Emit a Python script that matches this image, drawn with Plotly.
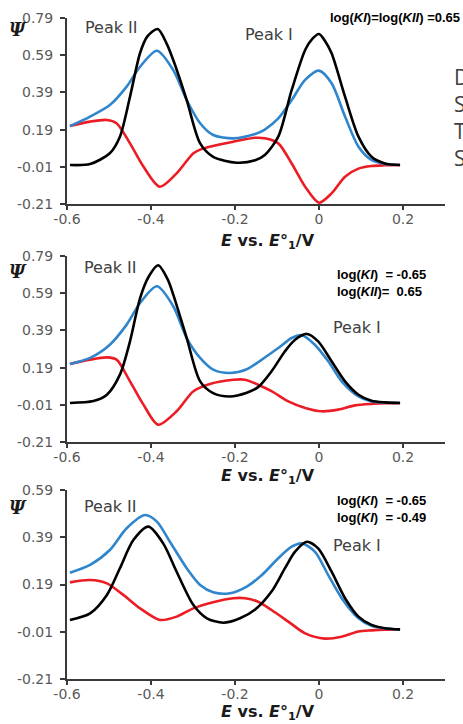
import plotly.graph_objects as go

# ---------------- data ----------------
# Panel 1 : log(KI)=log(KII)=0.65
p1_black_x = [-0.593, -0.545, -0.498, -0.474, -0.45, -0.426, -0.409, -0.384, -0.363, -0.347, -0.315, -0.283, -0.252,
              -0.196, -0.152, -0.129, -0.097, -0.065, -0.033, -0.017, 0.0, 0.014, 0.030, 0.062, 0.094, 0.125, 0.157, 0.193]
p1_black_y = [0.0, 0.005, 0.063, 0.152, 0.367, 0.602, 0.69, 0.731, 0.654, 0.564, 0.349, 0.116, 0.044,
              0.012, 0.025, 0.053, 0.152, 0.403, 0.618, 0.675, 0.704, 0.668, 0.60, 0.367, 0.152, 0.044, 0.008, 0.0]
p1_blue_x = [-0.593, -0.545, -0.498, -0.458, -0.426, -0.386, -0.347, -0.315, -0.283, -0.252, -0.204, -0.152,
             -0.129, -0.097, -0.065, -0.033, 0.0, 0.030, 0.062, 0.094, 0.125, 0.157, 0.193]
p1_blue_y = [0.209, 0.26, 0.322, 0.421, 0.528, 0.614, 0.51, 0.349, 0.224, 0.161, 0.143, 0.166,
             0.19, 0.25, 0.349, 0.457, 0.507, 0.439, 0.26, 0.098, 0.027, 0.005, 0.0]
p1_red_x = [-0.593, -0.545, -0.505, -0.482, -0.45, -0.418, -0.379, -0.339, -0.299, -0.28, -0.26, -0.204, -0.152,
            -0.129, -0.097, -0.065, -0.033, 0.0, 0.030, 0.062, 0.094, 0.125, 0.157, 0.193]
p1_red_y = [0.209, 0.233, 0.242, 0.224, 0.116, -0.009, -0.117, -0.045, 0.063, 0.085, 0.098, 0.125, 0.146,
            0.143, 0.116, 0.008, -0.117, -0.203, -0.153, -0.063, -0.02, -0.006, -0.002, 0.0]

# Panel 2 : log(KI)=-0.65, log(KII)=0.65
p2_black_x = [-0.593, -0.537, -0.505, -0.474, -0.45, -0.426, -0.405, -0.383, -0.36, -0.347, -0.315, -0.283, -0.252,
              -0.212, -0.172, -0.145, -0.113, -0.081, -0.057, -0.029, -0.002, 0.030, 0.062, 0.094, 0.125, 0.157, 0.193]
p2_black_y = [0.0, 0.01, 0.044, 0.152, 0.331, 0.564, 0.681, 0.74, 0.663, 0.582, 0.349, 0.116, 0.053,
              0.035, 0.055, 0.085, 0.17, 0.278, 0.34, 0.371, 0.331, 0.224, 0.116, 0.044, 0.012, 0.003, 0.0]
p2_blue_x = [-0.593, -0.545, -0.498, -0.458, -0.426, -0.386, -0.347, -0.315, -0.283, -0.252, -0.212, -0.172,
             -0.136, -0.097, -0.065, -0.041, -0.010, 0.022, 0.054, 0.094, 0.125, 0.157, 0.193]
p2_blue_y = [0.209, 0.242, 0.313, 0.421, 0.537, 0.627, 0.52, 0.349, 0.242, 0.179, 0.161, 0.181,
             0.233, 0.295, 0.349, 0.364, 0.313, 0.224, 0.116, 0.035, 0.008, 0.002, 0.0]
p2_red_x = [-0.593, -0.545, -0.505, -0.482, -0.45, -0.418, -0.383, -0.339, -0.299, -0.26, -0.204, -0.176,
            -0.145, -0.113, -0.073, -0.033, 0.006, 0.046, 0.086, 0.125, 0.157, 0.193]
p2_red_y = [0.209, 0.233, 0.245, 0.233, 0.116, -0.009, -0.117, -0.045, 0.063, 0.102, 0.125, 0.125,
            0.098, 0.063, 0.008, -0.027, -0.045, -0.036, -0.013, -0.005, -0.002, 0.0]

# Panel 3 : log(KI)=-0.65, log(KI)=-0.49
p3_black_x = [-0.593, -0.545, -0.505, -0.474, -0.442, -0.406, -0.371, -0.339, -0.299, -0.267, -0.228, -0.188,
              -0.152, -0.113, -0.081, -0.057, -0.029, -0.002, 0.030, 0.062, 0.094, 0.125, 0.157, 0.193]
p3_black_y = [0.04, 0.068, 0.146, 0.259, 0.378, 0.435, 0.364, 0.244, 0.103, 0.047, 0.028, 0.047,
              0.084, 0.16, 0.259, 0.329, 0.371, 0.343, 0.244, 0.132, 0.054, 0.019, 0.005, 0.0]
p3_blue_x = [-0.593, -0.545, -0.498, -0.458, -0.414, -0.386, -0.355, -0.315, -0.283, -0.252, -0.212, -0.172,
             -0.136, -0.097, -0.065, -0.041, -0.010, 0.022, 0.054, 0.094, 0.125, 0.157, 0.193]
p3_blue_y = [0.24, 0.273, 0.336, 0.428, 0.484, 0.456, 0.371, 0.259, 0.188, 0.157, 0.153, 0.181,
             0.23, 0.301, 0.35, 0.364, 0.329, 0.23, 0.132, 0.047, 0.015, 0.004, 0.0]
p3_red_x = [-0.593, -0.545, -0.505, -0.466, -0.426, -0.379, -0.339, -0.299, -0.252, -0.204, -0.176,
            -0.145, -0.113, -0.073, -0.033, 0.014, 0.054, 0.094, 0.125, 0.157, 0.193]
p3_red_y = [0.199, 0.209, 0.195, 0.146, 0.089, 0.04, 0.054, 0.089, 0.115, 0.132, 0.132,
            0.117, 0.082, 0.033, -0.017, -0.039, -0.031, -0.009, -0.004, -0.001, 0.0]

x_ticks = [-0.6, -0.4, -0.2, 0, 0.2]
x_ticktext = ["-0.6", "-0.4", "-0.2", "0", "0.2"]
y_ticks_12 = [-0.21, -0.01, 0.19, 0.39, 0.59, 0.79]
y_ticks_3 = [-0.21, -0.01, 0.19, 0.39, 0.59]

panel_labels = [
    ["log(<i>KI</i>)=log(<i>KII</i>) =0.65"],
    ["log(<i>KI</i>)  = -0.65", "log(<i>KII</i>)=  0.65"],
    ["log(<i>KI</i>)  = -0.65", "log(<i>KI</i>)  = -0.49"],
]
side_letters = ["D", "S", "T", "S"]

# ---------------- figure ----------------
W, H = 463, 724
BLACK = "#000000"
BLUE = "#2F86CC"
RED = "#EC1C24"
AXC = "#3A3A3A"
TICKC = "#595959"

def px(x):
    return x / W

def py(y):
    return 1 - y / H

fig = go.Figure()

series = [
    (1, p1_red_x, p1_red_y, RED), (1, p1_blue_x, p1_blue_y, BLUE), (1, p1_black_x, p1_black_y, BLACK),
    (2, p2_red_x, p2_red_y, RED), (2, p2_blue_x, p2_blue_y, BLUE), (2, p2_black_x, p2_black_y, BLACK),
    (3, p3_red_x, p3_red_y, RED), (3, p3_blue_x, p3_blue_y, BLUE), (3, p3_black_x, p3_black_y, BLACK),
]
for k, xs, ys, c in series:
    suf = "" if k == 1 else str(k)
    fig.add_trace(go.Scatter(x=xs, y=ys, mode="lines", line=dict(color=c, width=2.6, shape="spline", smoothing=0.8),
                             xaxis="x" + suf, yaxis="y" + suf, showlegend=False, hoverinfo="skip"))

# axis geometry (pixels)
x_dom = [px(67), px(445)]
y_doms = [[py(204), py(18)], [py(442), py(256)], [py(679), py(490)]]
y_ranges = [[-0.21, 0.79], [-0.21, 0.79], [-0.21, 0.59]]
y_tickss = [y_ticks_12, y_ticks_12, y_ticks_3]

tick_font = dict(family="DejaVu Sans", size=14, color=TICKC)
layout = dict(width=W, height=H, margin=dict(l=0, r=0, t=0, b=0, autoexpand=False),
              paper_bgcolor="white", plot_bgcolor="white", showlegend=False, template="none")
for i in range(3):
    suf = "" if i == 0 else str(i + 1)
    layout["xaxis" + suf] = dict(domain=x_dom, range=[-0.6, 0.3], anchor="y" + suf, automargin=False,
                                 tickvals=x_ticks, ticktext=x_ticktext, ticks="outside", ticklen=4,
                                 tickwidth=1.5, tickcolor=AXC, showline=True, linecolor=AXC, linewidth=2,
                                 showgrid=False, zeroline=False, tickfont=tick_font, fixedrange=True,
                                 ticklabelstandoff=-3)
    yt = y_tickss[i]
    layout["yaxis" + suf] = dict(domain=y_doms[i], range=y_ranges[i], anchor="x" + suf, automargin=False,
                                 tickvals=yt, ticktext=["%.2f" % v for v in yt], ticks="outside", ticklen=5,
                                 tickwidth=1.5, tickcolor=AXC, showline=True, linecolor=AXC, linewidth=2,
                                 showgrid=False, zeroline=False, tickfont=tick_font, fixedrange=True,
                                 ticklabelstandoff=4)
fig.update_layout(**layout)

ann = []
peak_font = dict(family="DejaVu Sans", size=16, color="#404040")
title_font = dict(family="DejaVu Sans", size=16, color="#1a1a1a")
psi_font = dict(family="DejaVu Serif", size=18, color="#1a1a1a")
lab_font = dict(family="Liberation Sans", size=13, color="#000000")

psi_pos = [(18, 30), (18, 272), (18, 507)]
peak2_pos = [(111, 27), (110, 267), (110, 506)]
peak1_pos = [(269, 34), (357, 328), (357, 545)]
title_y = [242, 476, 712]
for i in range(3):
    ann.append(dict(x=px(psi_pos[i][0]), y=py(psi_pos[i][1]), xref="paper", yref="paper",
                    text="<b><i>Ψ</i></b>", showarrow=False, font=psi_font, xanchor="center", yanchor="middle"))
    ann.append(dict(x=px(peak2_pos[i][0]), y=py(peak2_pos[i][1]), xref="paper", yref="paper",
                    text="Peak II", showarrow=False, font=peak_font, xanchor="center", yanchor="middle"))
    ann.append(dict(x=px(peak1_pos[i][0]), y=py(peak1_pos[i][1]), xref="paper", yref="paper",
                    text="Peak I", showarrow=False, font=peak_font, xanchor="center", yanchor="middle"))
    ann.append(dict(x=px(268), y=py(title_y[i]), xref="paper", yref="paper",
                    text="<b><i>E</i> vs. <i>E</i>°<sub>1</sub>/V</b>", showarrow=False, font=title_font,
                    xanchor="center", yanchor="middle"))

# log(K) labels
ann.append(dict(x=px(462), y=py(18), xref="paper", yref="paper", text="<b>" + panel_labels[0][0] + "</b>",
                showarrow=False, font=lab_font, xanchor="right", yanchor="middle"))
lab_y = [[274.5, 291.5], [500, 517]]
for j in (1, 2):
    for k in range(2):
        ann.append(dict(x=px(335), y=py(lab_y[j - 1][k]), xref="paper", yref="paper",
                        text="<b>" + panel_labels[j][k] + "</b>", showarrow=False, font=lab_font,
                        xanchor="left", yanchor="middle"))

# clipped side text on the right edge (cut off in the reference too)
side_y = [77, 104, 131, 158]
for s, yy in zip(side_letters, side_y):
    ann.append(dict(x=px(452), y=py(yy), xref="paper", yref="paper", text=s, showarrow=False,
                    font=dict(family="Open Sans", size=21, color="#404040"), xanchor="left", yanchor="middle"))

fig.update_layout(annotations=ann)
fig.write_html("out.html")
